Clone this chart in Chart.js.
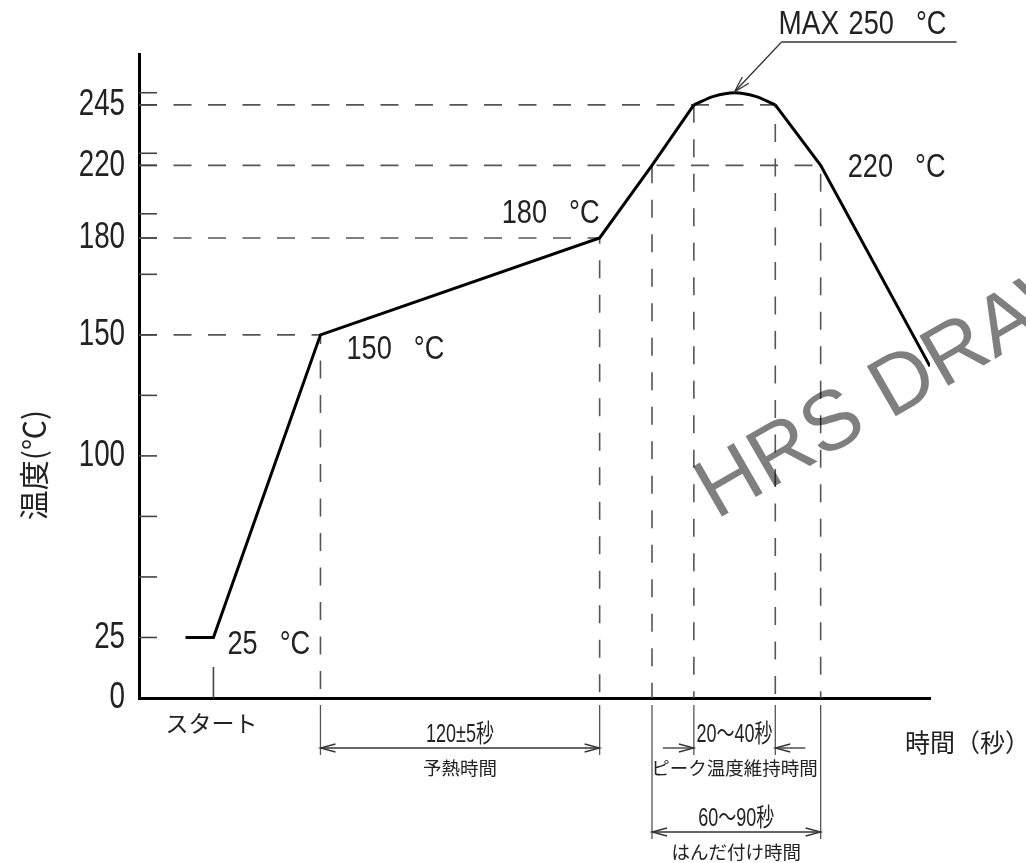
<!DOCTYPE html>
<html lang="ja">
<head>
<meta charset="utf-8">
<title>リフロー温度プロファイル</title>
<script src="https://cdn.jsdelivr.net/npm/chart.js@4.4.1/dist/chart.umd.min.js"></script>
<style>
  html, body { margin: 0; padding: 0; background: #fff; }
  #chart { display: block; }
</style>
</head>
<body>
<canvas id="chart" width="1026" height="863"></canvas>
<script>
// 温度プロファイル（横軸は模式的な秒数）
const RISE_TIME = [20, 32, 78, 198, 220.5, 238.5];
const RISE_TEMP = [25, 25, 150, 180, 220, 245];
const PEAK_TIME = [238.5, 247, 256, 265, 273.5];
const PEAK_TEMP = [245, 248.5, 250, 248.5, 245];
const FALL_TIME = [273.5, 293, 340];
const FALL_TEMP = [245, 220, 137];

const START_TIME = 32;
const Y_TICKS = [0, 25, 50, 75, 100, 125, 150, 175, 180, 200, 220, 225, 245, 250];
const Y_LABELS = [0, 25, 100, 150, 180, 220, 245];

// 図面の縦軸は模式図: 180℃だけ実際より上に描かれている
const TEMP_ANCHORS = [0, 175, 180, 200, 266];
const DRAW_ANCHORS = [0, 175, 190, 200, 266];

// 破線の補助線 [時間, 温度, 縦軸まで水平線を引くか]
const GUIDES = [
    [78, 150, true],
    [198, 180, true],
    [220.5, 220, false],
    [238.5, 245, false],
    [273.5, 245, true],
    [293, 220, true]
];

// 寸法線
const DIMENSIONS = [
    { from: 78, to: 198, row: 0, inward: false, top: '120±5秒', bottom: '予熱時間' },
    { from: 238.5, to: 273.5, row: 0, inward: true, top: '20～40秒', bottom: 'ピーク温度維持時間' },
    { from: 220.5, to: 293, row: 1, inward: false, top: '60～90秒', bottom: 'はんだ付け時間' }
];

const SANS = "'Liberation Sans', Arial, 'Noto Sans CJK JP', sans-serif";
const CJK = "'Noto Sans CJK JP', sans-serif";
const TICK_SQUEEZE = 0.75;

function interp(v, xs, ys) {
    for (let i = 1; i < xs.length; i++) {
        if (v <= xs[i] || i === xs.length - 1) {
            const k = (v - xs[i - 1]) / (xs[i] - xs[i - 1]);
            return ys[i - 1] + k * (ys[i] - ys[i - 1]);
        }
    }
    return v;
}

// 非線形の縦軸 + 細長い目盛り文字
class SchematicScale extends Chart.LinearScale {
    getPixelForValue(value) {
        if (value === null || value === undefined) return NaN;
        return super.getPixelForValue(interp(value, TEMP_ANCHORS, DRAW_ANCHORS));
    }
    getValueForPixel(pixel) {
        return interp(super.getValueForPixel(pixel), DRAW_ANCHORS, TEMP_ANCHORS);
    }
    drawLabels(chartArea) {
        const ctx = this.ctx;
        const ax = this.right - this.options.ticks.padding;
        ctx.save();
        ctx.translate(ax, 0);
        ctx.scale(TICK_SQUEEZE, 1);
        ctx.translate(-ax, 0);
        super.drawLabels(chartArea);
        ctx.restore();
    }
}
SchematicScale.id = 'schematic';
SchematicScale.defaults = {};
Chart.register(SchematicScale);

const pts = (xs, ys) => xs.map((x, i) => ({ x: x, y: ys[i] }));

const curveStyle = {
    borderColor: '#000',
    borderWidth: 3,
    pointRadius: 0,
    showLine: true,
    fill: false,
    tension: 0
};

const guideSets = GUIDES.map(g => ({
    data: g[2]
        ? [{ x: 0, y: g[1] }, { x: g[0], y: g[1] }, { x: g[0], y: 0 }]
        : [{ x: g[0], y: g[1] }, { x: g[0], y: 0 }],
    borderColor: '#555',
    borderWidth: 1.6,
    borderDash: [18, 16.5],
    pointRadius: 0,
    showLine: true,
    fill: false
}));

function line(ctx, x1, y1, x2, y2) {
    ctx.beginPath();
    ctx.moveTo(x1, y1);
    ctx.lineTo(x2, y2);
    ctx.stroke();
}

function arrowHead(ctx, tipX, tipY, fromX, fromY, len = 15, half = 4) {
    const a = Math.atan2(tipY - fromY, tipX - fromX);
    const bx = tipX - Math.cos(a) * len, by = tipY - Math.sin(a) * len;
    const nx = -Math.sin(a) * half, ny = Math.cos(a) * half;
    ctx.beginPath();
    ctx.moveTo(bx + nx, by + ny);
    ctx.lineTo(tipX, tipY);
    ctx.lineTo(bx - nx, by - ny);
    ctx.stroke();
}

// 細長い文字（図面用フォント風）
function narrowText(ctx, text, x, y, align, size, squeeze) {
    ctx.save();
    ctx.font = size + 'px ' + SANS;
    ctx.textAlign = align;
    ctx.textBaseline = 'middle';
    ctx.translate(x, y);
    ctx.scale(squeeze, 1);
    ctx.fillText(text, 0, 0);
    ctx.restore();
}

function narrowWidth(ctx, text, size, squeeze) {
    ctx.save();
    ctx.font = size + 'px ' + SANS;
    const w = ctx.measureText(text).width * squeeze;
    ctx.restore();
    return w;
}

function tempLabel(ctx, x, y, value, align) {
    const size = 34, sq = 0.8, gap = 22;
    const numW = narrowWidth(ctx, value, size, sq);
    const degW = narrowWidth(ctx, '°C', size, sq);
    const start = align === 'right' ? x - (numW + gap + degW) : x;
    narrowText(ctx, value, start, y, 'left', size, sq);
    narrowText(ctx, '°C', start + numW + gap, y, 'left', size, sq);
}

const annotations = {
    id: 'annotations',
    afterDraw(chart) {
        const { ctx, chartArea: area, scales: { x, y } } = chart;
        const bottom = area.bottom;
        const px = (t) => x.getPixelForValue(t);
        const py = (v) => y.getPixelForValue(v);
        ctx.save();
        ctx.fillStyle = '#222';
        ctx.strokeStyle = '#444';
        ctx.lineWidth = 1.6;

        // 縦軸の目盛り（内側）
        y.ticks.forEach(t => {
            if (t.value === 0) return;
            const ty = py(t.value);
            line(ctx, area.left, ty, area.left + 18, ty);
        });

        // スタート
        const sx = px(START_TIME);
        line(ctx, sx, bottom - 31, sx, bottom);
        ctx.font = '23px ' + CJK;
        ctx.textAlign = 'center';
        ctx.textBaseline = 'middle';
        ctx.fillText('スタート', sx - 2, bottom + 25);

        // 寸法線
        ctx.lineWidth = 1.3;
        DIMENSIONS.forEach(d => {
            const x1 = px(d.from);
            const x2 = px(d.to);
            const ly = bottom + (d.row === 0 ? 50 : 134);
            ctx.strokeStyle = '#555';
            line(ctx, x1, bottom + 7, x1, ly + 7);
            line(ctx, x2, bottom + 7, x2, ly + 7);
            ctx.strokeStyle = '#333';
            if (d.inward) {
                line(ctx, x1 - 31, ly, x1, ly);
                arrowHead(ctx, x1, ly, x1 - 31, ly);
                line(ctx, x2, ly, x2 + 30, ly);
                arrowHead(ctx, x2, ly, x2 + 30, ly);
            } else {
                line(ctx, x1, ly, x2, ly);
                arrowHead(ctx, x1, ly, x2, ly);
                arrowHead(ctx, x2, ly, x1, ly);
            }
            const mid = (x1 + x2) / 2;
            narrowText(ctx, d.top, mid, ly - 13, 'center', 25, 0.72);
            ctx.font = '18.5px ' + CJK;
            ctx.textAlign = 'center';
            ctx.textBaseline = 'middle';
            ctx.fillText(d.bottom, mid, ly + 20);
        });

        // 温度ラベル
        tempLabel(ctx, px(RISE_TIME[1]) + 14, py(RISE_TEMP[1]) + 7, '25', 'left');
        tempLabel(ctx, px(RISE_TIME[2]) + 26, py(RISE_TEMP[2]) + 15, '150', 'left');
        tempLabel(ctx, px(RISE_TIME[3]), py(RISE_TEMP[3]) - 24, '180', 'right');
        tempLabel(ctx, px(FALL_TIME[1]) + 27, py(FALL_TEMP[1]) + 2, '220', 'left');

        // MAX 250℃ の引出線
        const tipX = px(PEAK_TIME[2]), tipY = py(PEAK_TEMP[2]) - 1;
        const elbowX = tipX + 47, elbowY = 42;
        ctx.strokeStyle = '#333';
        ctx.lineWidth = 1.3;
        line(ctx, elbowX, elbowY, elbowX + 175, elbowY);
        line(ctx, elbowX, elbowY, tipX, tipY);
        arrowHead(ctx, tipX, tipY, elbowX, elbowY, 16, 4.5);
        narrowText(ctx, 'MAX', elbowX - 3, 25, 'left', 34, 0.82);
        tempLabel(ctx, elbowX + 67, 25, '250', 'left');

        // 軸タイトル
        ctx.font = '25px ' + CJK;
        ctx.textAlign = 'left';
        ctx.textBaseline = 'middle';
        ctx.fillText('時間（秒）', 905, bottom + 44);
        ctx.save();
        ctx.translate(34, 465);
        ctx.rotate(-Math.PI / 2);
        ctx.font = '30px ' + CJK;
        ctx.textAlign = 'center';
        ctx.fillText('温度(℃)', 0, 0);
        ctx.restore();

        // 透かし
        ctx.save();
        ctx.translate(716, 520);
        ctx.rotate(-30 * Math.PI / 180);
        ctx.font = "84px 'Liberation Sans', Arial, sans-serif";
        ctx.textAlign = 'left';
        ctx.textBaseline = 'alphabetic';
        ctx.fillStyle = 'rgba(0, 0, 0, 0.5)';
        ctx.fillText('HRS DRAWING', 0, 0);
        ctx.restore();

        ctx.restore();
    }
};

new Chart(document.getElementById('chart'), {
    type: 'scatter',
    data: {
        datasets: [
            { ...curveStyle, data: pts(RISE_TIME, RISE_TEMP) },
            { ...curveStyle, data: pts(PEAK_TIME, PEAK_TEMP), cubicInterpolationMode: 'monotone' },
            { ...curveStyle, data: pts(FALL_TIME, FALL_TEMP) },
            ...guideSets
        ]
    },
    options: {
        responsive: false,
        animation: false,
        devicePixelRatio: 1,
        events: [],
        layout: { padding: { top: 54, right: 96, left: 0, bottom: 0 } },
        plugins: {
            legend: { display: false },
            tooltip: { enabled: false }
        },
        scales: {
            x: {
                type: 'linear',
                min: 0,
                max: 340,
                grid: { display: false, drawTicks: false },
                border: { display: true, color: '#000', width: 3 },
                ticks: { display: false },
                afterFit: s => { s.height = 165; }
            },
            y: {
                type: 'schematic',
                min: 0,
                max: 266,
                grid: { display: false, drawTicks: false },
                border: { display: true, color: '#000', width: 3 },
                afterBuildTicks: s => { s.ticks = Y_TICKS.map(v => ({ value: v })); },
                ticks: {
                    autoSkip: false,
                    padding: 14,
                    color: '#222',
                    font: { family: SANS, size: 37 },
                    callback: v => Y_LABELS.includes(v) ? String(v) : ''
                },
                afterFit: s => { s.width = 139; }
            }
        }
    },
    plugins: [annotations]
});
</script>
</body>
</html>
